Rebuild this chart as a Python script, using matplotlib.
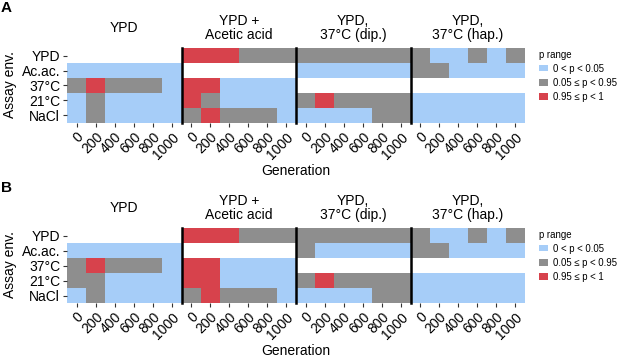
import numpy as np
import matplotlib
matplotlib.use("Agg")
import matplotlib.pyplot as plt
from matplotlib.colors import ListedColormap
from matplotlib.patches import Patch

plt.rcParams['font.family'] = ['Liberation Sans', 'DejaVu Sans']

generations = [0, 200, 400, 600, 800, 1000]
assay_envs = ["YPD", "Ac.ac.", "37°C", "21°C", "NaCl"]
facet_titles = ["YPD", "YPD +\nAcetic acid", "YPD,\n37°C (dip.)", "YPD,\n37°C (hap.)"]
p_labels = ["0 < p < 0.05", "0.05 \u2264 p < 0.95", "0.95 \u2264 p < 1"]
p_colors = ["#a6cdf8", "#8e8e8e", "#d7424c"]

# 0 = p<0.05, 1 = 0.05-0.95, 2 = >=0.95, None = evolution env (not shown)
N = None
a_ypd = [[N, N, N, N, N, N],
         [0, 0, 0, 0, 0, 0],
         [1, 2, 1, 1, 1, 0],
         [0, 1, 0, 0, 0, 0],
         [0, 1, 0, 0, 0, 0]]
a_acetic = [[2, 2, 2, 1, 1, 1],
            [N, N, N, N, N, N],
            [2, 2, 0, 0, 0, 0],
            [2, 1, 0, 0, 0, 0],
            [1, 2, 1, 1, 1, 0]]
a_dip = [[1, 1, 1, 1, 1, 1],
         [0, 0, 0, 0, 0, 0],
         [N, N, N, N, N, N],
         [1, 2, 1, 1, 1, 1],
         [0, 0, 0, 0, 1, 1]]
a_hap = [[1, 0, 0, 1, 0, 1],
         [1, 1, 0, 0, 0, 0],
         [N, N, N, N, N, N],
         [0, 0, 0, 0, 0, 0],
         [0, 0, 0, 0, 0, 0]]

b_ypd = [[N, N, N, N, N, N],
         [0, 0, 0, 0, 0, 0],
         [1, 2, 1, 1, 1, 0],
         [1, 1, 0, 0, 0, 0],
         [0, 1, 0, 0, 0, 0]]
b_acetic = [[2, 2, 2, 1, 1, 1],
            [N, N, N, N, N, N],
            [2, 2, 0, 0, 0, 0],
            [2, 2, 0, 0, 0, 0],
            [1, 2, 1, 1, 1, 0]]
b_dip = [[1, 1, 1, 1, 1, 1],
         [1, 0, 0, 0, 0, 0],
         [N, N, N, N, N, N],
         [1, 2, 1, 1, 1, 1],
         [0, 0, 0, 0, 1, 1]]
b_hap = [[1, 0, 0, 1, 0, 1],
         [1, 1, 0, 0, 0, 0],
         [N, N, N, N, N, N],
         [0, 0, 0, 0, 0, 0],
         [0, 0, 0, 0, 0, 0]]

W, H = 617, 358
fig = plt.figure(figsize=(W / 100, H / 100), dpi=100)
cmap = ListedColormap(p_colors)

x_left, facet_w, panel_h = 67, 114.5, 75
step = generations[1] - generations[0]
x_edges = np.append(np.array(generations) - step / 2, generations[-1] + step / 2)
y_edges = np.arange(len(assay_envs) + 1) - 0.5


def draw_panel(facets, top, letter):
    for i, (data, title) in enumerate(zip(facets, facet_titles)):
        ax = fig.add_axes([(x_left + i * facet_w) / W, 1 - (top + panel_h) / H,
                           facet_w / W, panel_h / H])
        arr = np.array([[np.nan if v is None else v for v in row] for row in data], dtype=float)
        ax.pcolormesh(x_edges, y_edges, np.ma.masked_invalid(arr), cmap=cmap, vmin=-0.5, vmax=2.5)
        ax.set_xlim(x_edges[0], x_edges[-1])
        ax.set_ylim(y_edges[-1], y_edges[0])
        for s in ax.spines.values():
            s.set_visible(False)
        if i > 0:
            ax.spines['left'].set_visible(True)
            ax.spines['left'].set_linewidth(1.8)
            ax.spines['left'].set_color('black')
        ax.set_xticks(generations)
        ax.set_xticklabels([str(g) for g in generations], rotation=45, ha='right',
                           rotation_mode='anchor', fontsize=10)
        ax.tick_params(axis='x', length=3, width=0.8, color='#333333', pad=2)
        if i == 0:
            ax.set_yticks(range(len(assay_envs)))
            ax.set_yticklabels(assay_envs, fontsize=10)
            ax.tick_params(axis='y', length=3, width=0.8, color='#333333', pad=2)
        else:
            ax.set_yticks([])
        ax.text(0.5, 1 + 20 / panel_h, title, transform=ax.transAxes, ha='center',
                va='center', fontsize=10, linespacing=1.05)
    fig.text(296 / W, 1 - (top + 123) / H, "Generation", ha='center', va='center', fontsize=10)
    fig.text(10 / W, 1 - (top + 37) / H, "Assay env.", rotation=90, ha='center', va='center', fontsize=10)
    fig.text(1 / W, 1 - (top - 40) / H, letter, ha='left', va='center', fontsize=11, fontweight='bold')
    handles = [Patch(facecolor=c, edgecolor='none') for c in p_colors]
    fig.legend(handles, p_labels, title="p range", loc='upper left',
               bbox_to_anchor=(534 / W, 1 - (top - 3) / H), frameon=False,
               fontsize=6.9, title_fontsize=6.9, handlelength=1.0, handleheight=0.6,
               handletextpad=0.45, labelspacing=0.42, borderpad=0.2, borderaxespad=0.3,
               alignment='left')


draw_panel([a_ypd, a_acetic, a_dip, a_hap], 48, "A")
draw_panel([b_ypd, b_acetic, b_dip, b_hap], 228, "B")

fig.savefig("out.png", dpi=100)
